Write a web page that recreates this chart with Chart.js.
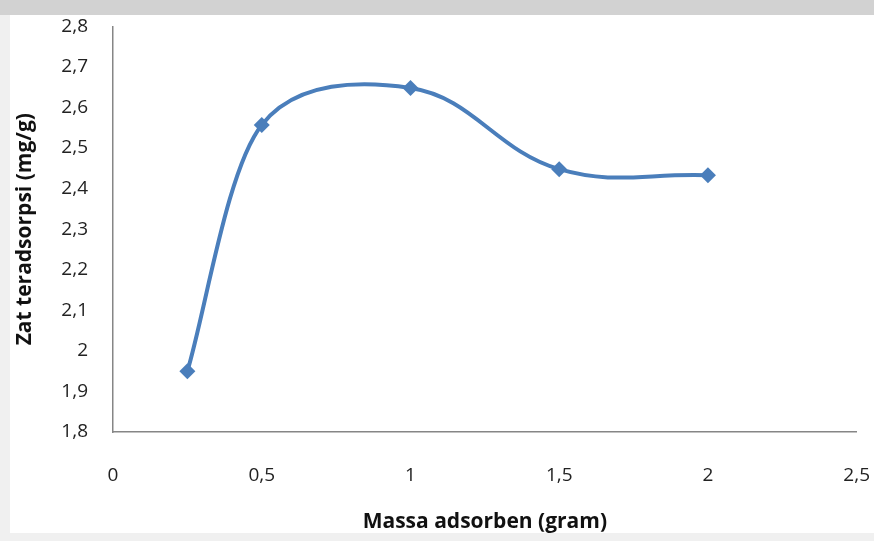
<!DOCTYPE html>
<html>
<head>
<meta charset="utf-8">
<script src="https://cdn.jsdelivr.net/npm/chart.js@4/dist/chart.umd.min.js"></script>
<style>
  html, body { margin: 0; padding: 0; overflow: hidden; }
  body { width: 874px; height: 541px; background: #f0f0f0; position: relative; }
  .band { position: absolute; left: 0; top: 0; width: 874px; height: 15px; background: #d2d2d2; }
  .box { position: absolute; left: 10px; top: 15px; width: 864px; height: 518px; background: #fff; }
  #myChart { position: absolute; left: 0; top: -25px; }
</style>
</head>
<body>
<div class="band"></div>
<div class="box"><canvas id="myChart" width="892" height="543"></canvas></div>
<script>
// massa adsorben (gram) vs zat teradsorpsi (mg/g)
const massa = [0.25, 0.5, 1, 1.5, 2];
const teradsorpsi = [1.95, 2.557, 2.648, 2.448, 2.433];

const xTitle = 'Massa adsorben (gram)';
const yTitle = 'Zat teradsorpsi (mg/g)';

const blue = '#4a7ebb';
const clear = 'rgba(0,0,0,0)';
const axisColor = '#868686';
const fontFamily = "'Open Sans', 'Noto Sans', sans-serif";

const points = massa.map((m, i) => ({ x: m, y: teradsorpsi[i] }));

const koma = (v) => Number(v.toFixed(1)).toString().replace('.', ',');

const ctx = document.getElementById('myChart').getContext('2d');
new Chart(ctx, {
    type: 'line',
    data: {
        datasets: [{
            // kurva utama + marker (segmen pertama digambar oleh dataset kedua)
            data: points,
            borderColor: blue,
            backgroundColor: blue,
            borderWidth: 4,
            tension: 0.4,
            pointStyle: 'rectRot',
            pointRadius: 8,
            pointHoverRadius: 8,
            pointBorderWidth: 0,
            fill: false,
            segment: { borderColor: (c) => c.p0DataIndex === 0 ? clear : blue }
        }, {
            // segmen 0,25 -> 0,5 sedikit lebih kaku, seperti kurva Excel
            data: points.slice(0, 3),
            borderColor: blue,
            borderWidth: 4,
            tension: 0.25,
            pointRadius: 0,
            fill: false,
            segment: { borderColor: (c) => c.p0DataIndex === 0 ? blue : clear }
        }]
    },
    options: {
        responsive: false,
        animation: false,
        layout: { padding: 0 },
        plugins: { legend: { display: false }, tooltip: { enabled: false } },
        scales: {
            x: {
                type: 'linear',
                min: 0,
                max: 2.5,
                grid: { display: false, drawTicks: false },
                border: { display: true, color: axisColor, width: 1.5 },
                ticks: {
                    stepSize: 0.5,
                    padding: 32,
                    color: '#222',
                    font: { family: fontFamily, size: 19 },
                    callback: koma
                },
                title: {
                    display: true,
                    text: xTitle,
                    color: '#111',
                    padding: 0,
                    font: { family: fontFamily, size: 21, weight: 'bold', lineHeight: 1 }
                },
                afterFit: (scale) => { scale.height = 101; }
            },
            y: {
                min: 1.8,
                max: 2.8,
                grid: { display: false, drawTicks: false },
                border: { display: true, color: axisColor, width: 1.5 },
                ticks: {
                    stepSize: 0.1,
                    padding: 25,
                    color: '#222',
                    font: { family: fontFamily, size: 19 },
                    callback: koma
                },
                title: {
                    display: true,
                    text: yTitle,
                    color: '#111',
                    padding: { top: 5, bottom: 0 },
                    font: { family: fontFamily, size: 21, weight: 'bold', lineHeight: 1 }
                },
                afterFit: (scale) => { scale.width = 103; }
            }
        }
    }
});
</script>
</body>
</html>
